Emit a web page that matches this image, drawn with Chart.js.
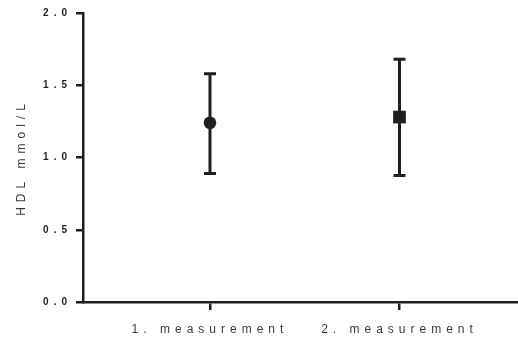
<!DOCTYPE html>
<html lang="en">
<head>
  <meta charset="UTF-8" />
  <title>HDL measurements</title>
  <script src="https://cdn.jsdelivr.net/npm/chart.js"></script>
  <style>
    body {
      margin: 0;
      background: #ffffff;
    }
    #wrap {
      width: 518px;
      height: 342px;
    }
  </style>
</head>
<body>
  <div id="wrap"><canvas id="hdlChart" width="518" height="342"></canvas></div>

  <script>
    const categories = ["1. measurement", "2. measurement"];
    const means = [1.24, 1.28];
    const upper = [1.58, 1.68];
    const lower = [0.89, 0.875];
    const yTicks = [0, 0.5, 1.0, 1.5, 2.0];

    const ink = "#231f20";

    // spaced-out lettering like the original export
    const spacing = {
      id: "spacing",
      beforeUpdate(chart) { chart.ctx.letterSpacing = "5px"; },
      beforeDraw(chart) { chart.ctx.letterSpacing = "5px"; }
    };

    const errorBars = {
      id: "errorBars",
      beforeDatasetsDraw(chart) {
        const ctx = chart.ctx;
        const xs = chart.scales.x;
        const ys = chart.scales.y;
        ctx.save();
        ctx.strokeStyle = ink;
        ctx.lineWidth = 3;
        categories.forEach((c, i) => {
          const x = xs.getPixelForValue(i + 1);
          const yTop = ys.getPixelForValue(upper[i]);
          const yBot = ys.getPixelForValue(lower[i]);
          ctx.beginPath();
          ctx.moveTo(x, yTop);
          ctx.lineTo(x, yBot);
          ctx.moveTo(x - 6, yTop);
          ctx.lineTo(x + 6, yTop);
          ctx.moveTo(x - 6, yBot);
          ctx.lineTo(x + 6, yBot);
          ctx.stroke();
        });
        ctx.restore();
      }
    };

    new Chart(document.getElementById("hdlChart"), {
      type: "scatter",
      data: {
        datasets: [{
          data: means.map((m, i) => ({ x: i + 1, y: m })),
          pointStyle: ["circle", "rect"],
          pointRadius: [6.3, 9],
          backgroundColor: ink,
          borderColor: ink,
          borderWidth: 0
        }]
      },
      options: {
        responsive: false,
        animation: false,
        layout: { autoPadding: false, padding: { top: 13, right: 1, left: 0, bottom: 0 } },
        plugins: { legend: { display: false }, tooltip: { enabled: false } },
        scales: {
          x: {
            type: "linear",
            min: 0.33,
            max: 2.62,
            afterBuildTicks: s => { s.ticks = [{ value: 1 }, { value: 2 }]; },
            afterFit: s => { s.height = 40; s.paddingLeft = 0; s.paddingRight = 0; },
            ticks: {
              callback: v => categories[v - 1],
              color: "#3a3a3a",
              font: { family: "Arial, 'Liberation Sans'", size: 12 },
              padding: 12,
              maxRotation: 0
            },
            grid: { drawOnChartArea: false, tickLength: 8, color: ink, lineWidth: 2.5 },
            border: { color: ink, width: 2.5 }
          },
          y: {
            min: 0,
            max: 2,
            afterBuildTicks: s => { s.ticks = yTicks.map(v => ({ value: v })); },
            afterFit: s => { s.width = 83; },
            ticks: {
              callback: v => v.toFixed(1),
              color: ink,
              font: { family: "Arial, 'Liberation Sans'", size: 10, weight: "bold" },
              padding: 4
            },
            grid: { drawOnChartArea: false, tickLength: 7, color: ink, lineWidth: 2.5 },
            border: { color: ink, width: 2.5 },
            title: {
              display: true,
              text: "HDL mmol/L",
              color: "#3a3a3a",
              font: { family: "Arial, 'Liberation Sans'", size: 12 },
              padding: { top: 14, bottom: 0 }
            }
          }
        }
      },
      plugins: [spacing, errorBars]
    });
  </script>
</body>
</html>
